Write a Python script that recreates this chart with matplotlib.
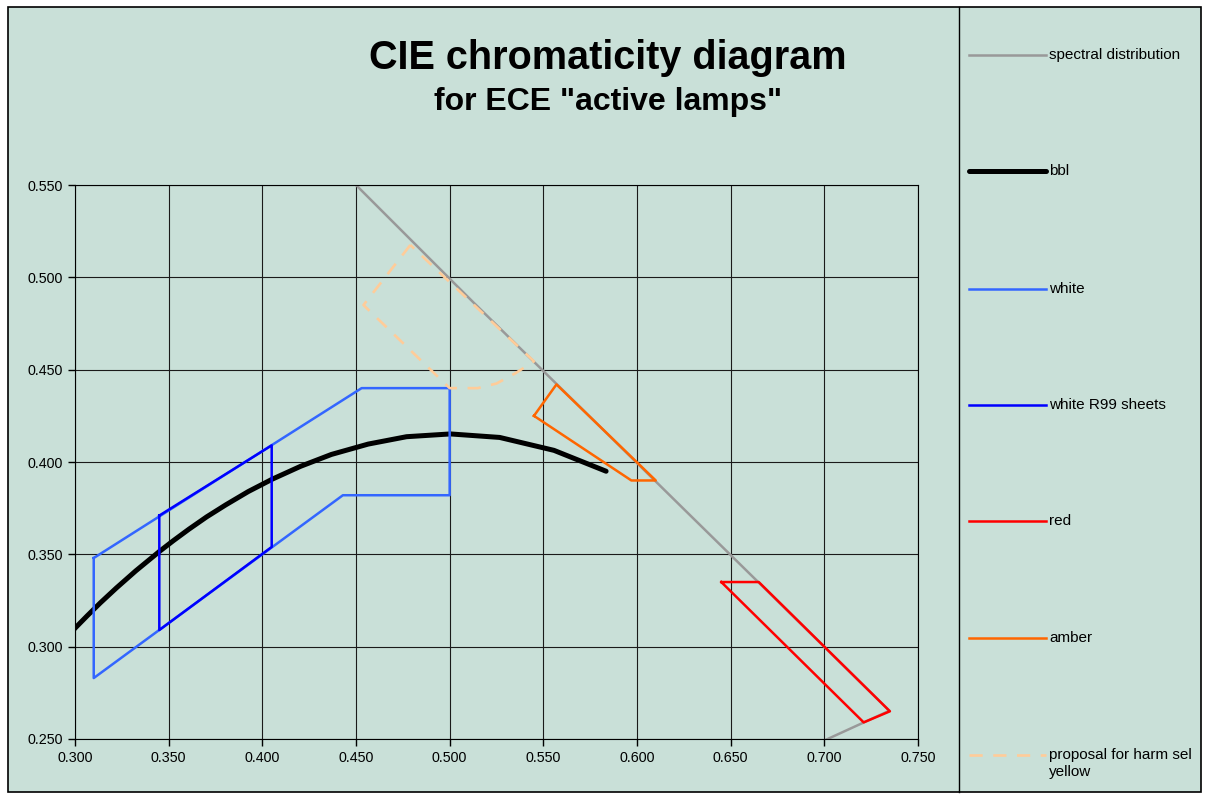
import matplotlib

matplotlib.use("Agg")
import matplotlib.pyplot as plt
from matplotlib.lines import Line2D
from matplotlib.patches import Rectangle

plt.rcParams["font.family"] = ["Liberation Sans", "DejaVu Sans"]

# chromaticity coordinates
spectral_x = [0.400, 0.450, 0.5125, 0.5752, 0.627, 0.6915, 0.7347, 0.174]
spectral_y = [0.600, 0.550, 0.4866, 0.4242, 0.3725, 0.3083, 0.2653, 0.005]

bbl_x = [0.2952, 0.3003, 0.3064, 0.3135, 0.3221, 0.3325, 0.3451, 0.3525, 0.3608,
         0.3703, 0.3805, 0.3925, 0.4053, 0.4205, 0.4369, 0.4565, 0.4770, 0.5004,
         0.5267, 0.5557, 0.5835]
bbl_y = [0.3048, 0.3103, 0.3166, 0.3237, 0.3318, 0.3411, 0.3516, 0.3574, 0.3636,
         0.3703, 0.3768, 0.3840, 0.3907, 0.3977, 0.4041, 0.4097, 0.4137, 0.4152,
         0.4133, 0.4063, 0.3950]

white_x = [0.310, 0.453, 0.500, 0.500, 0.443, 0.310, 0.310]
white_y = [0.348, 0.440, 0.440, 0.382, 0.382, 0.283, 0.348]

r99_x = [0.345, 0.405, 0.405, 0.345, 0.345]
r99_y = [0.371, 0.409, 0.354, 0.309, 0.371]

red_x = [0.645, 0.665, 0.735, 0.721, 0.645]
red_y = [0.335, 0.335, 0.265, 0.259, 0.335]

amber_x = [0.545, 0.557, 0.610, 0.597, 0.545]
amber_y = [0.425, 0.442, 0.390, 0.390, 0.425]

yellow_x = [0.479, 0.454, 0.500, 0.515, 0.525, 0.535, 0.545, 0.479]
yellow_y = [0.5175, 0.485, 0.440, 0.440, 0.4425, 0.448, 0.4545, 0.5175]

x_ticks = [0.30, 0.35, 0.40, 0.45, 0.50, 0.55, 0.60, 0.65, 0.70, 0.75]
y_ticks = [0.25, 0.30, 0.35, 0.40, 0.45, 0.50, 0.55]

series = [
    ("spectral distribution", spectral_x, spectral_y,
     dict(color="#999999", lw=1.8)),
    ("bbl", bbl_x, bbl_y, dict(color="black", lw=3.6, solid_capstyle="round",
                               solid_joinstyle="round")),
    ("white", white_x, white_y, dict(color="#3366FF", lw=1.8)),
    ("white R99 sheets", r99_x, r99_y, dict(color="#0000FF", lw=1.8)),
    ("red", red_x, red_y, dict(color="#FF0000", lw=1.8)),
    ("amber", amber_x, amber_y, dict(color="#FF6600", lw=1.8)),
    ("proposal for harm sel\nyellow", yellow_x, yellow_y,
     dict(color="#FFCC99", lw=1.9, dashes=(5, 4))),
]

W, H = 1207, 796
bg = "#C9E0D8"

fig = plt.figure(figsize=(W / 100, H / 100), dpi=100, facecolor="white")

# chart background and panel borders
fig.add_artist(Rectangle((8 / W, 1 - 792 / H), (1201 - 8) / W, (792 - 7) / H,
                         transform=fig.transFigure, facecolor=bg,
                         edgecolor="black", lw=1.2, zorder=0))
fig.add_artist(Line2D([959 / W, 959 / W], [1 - 792 / H, 1 - 7 / H],
                      transform=fig.transFigure, color="black", lw=1.0))

ax = fig.add_axes([75 / W, 1 - 739 / H, (918 - 75) / W, (739 - 185) / H])
ax.set_facecolor(bg)

for label, xs, ys, style in series:
    ax.plot(xs, ys, label=label, **style)

ax.set_xlim(0.30, 0.75)
ax.set_ylim(0.25, 0.55)
ax.set_xticks(x_ticks)
ax.set_yticks(y_ticks)
ax.set_xticklabels([f"{v:.3f}" for v in x_ticks])
ax.set_yticklabels([f"{v:.3f}" for v in y_ticks])
ax.tick_params(direction="out", length=5, width=1, labelsize=10.3, pad=4,
               colors="black")
ax.grid(True, color="#1a1a1a", lw=0.8)
ax.set_axisbelow(True)
for spine in ax.spines.values():
    spine.set_color("black")
    spine.set_linewidth(0.8)

fig.text(608 / W, 1 - 58 / H, "CIE chromaticity diagram", ha="center",
         va="center", fontsize=28.5, fontweight="bold")
fig.text(608 / W, 1 - 102 / H, 'for ECE "active lamps"', ha="center",
         va="center", fontsize=23, fontweight="bold")

# legend in the right panel
row_y = [55, 171, 289, 405, 521, 638, 755]
for (label, _, _, style), y in zip(series, row_y):
    fig.add_artist(Line2D([969 / W, 1046 / W], [1 - y / H, 1 - y / H],
                          transform=fig.transFigure, **style))
    fig.text(1049 / W, 1 - (y - 7) / H, label, ha="left", va="top",
             fontsize=11, linespacing=1.3)

fig.savefig("out.png", dpi=100, facecolor="white")
